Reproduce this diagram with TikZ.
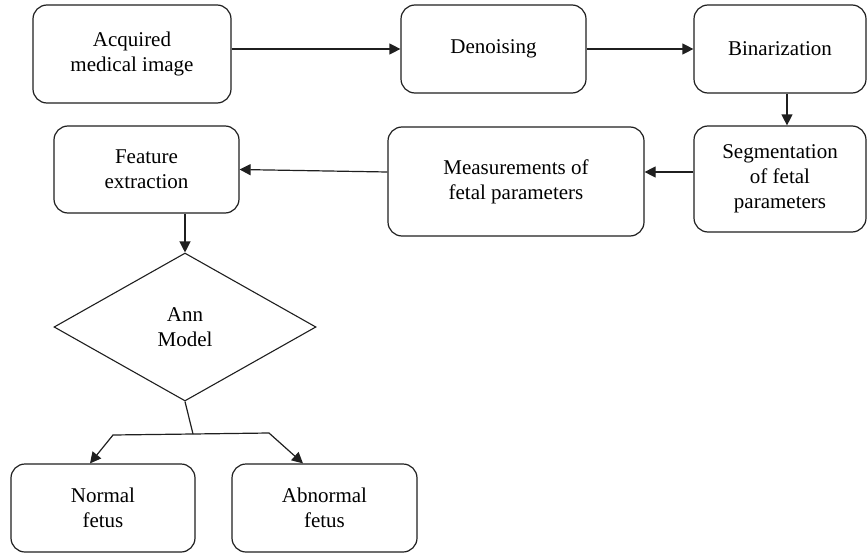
\documentclass[tikz,border=0pt]{standalone}
\usepackage{fontspec}
\setmainfont{Liberation Serif}
\usetikzlibrary{shapes.geometric,arrows.meta}

\tikzset{
  stage/.style={draw=black!88, line width=1.2pt, rounded corners=14pt,
    align=center, font=\fontsize{21}{25}\selectfont, inner sep=2pt},
  decide/.style={draw=black!88, line width=1.1pt, shape=diamond, inner sep=0pt,
    align=center, font=\fontsize{21}{25}\selectfont},
  arr/.style={draw=black!88, line width=1.2pt, -{Triangle[length=11pt,width=11pt]}},
  link/.style={draw=black!88, line width=1.2pt}
}

\begin{document}
\begin{tikzpicture}[x=1pt, y=-1pt]
  % page frame (pixel grid of the reference)
  \useasboundingbox (0,0) rectangle (868,554);
  % Top row of processing stages
  \node[stage, minimum width=198pt, minimum height=98pt] (acq) at (132,54) {Acquired\\medical image};
  \node[stage, minimum width=185pt, minimum height=88pt] (denoise) at (493.5,49) {Denoising};
  \node[stage, minimum width=172pt, minimum height=88pt] (binar) at (780,49) {Binarization};
  % Second row, running right to left
  \node[stage, minimum width=172pt, minimum height=106pt] (segm) at (780,179) {Segmentation\\of fetal\\parameters};
  \node[stage, minimum width=256pt, minimum height=109pt] (meas) at (516,181.5) {Measurements of\\fetal parameters};
  \node[stage, minimum width=185pt, minimum height=87pt] (feat) at (146.5,169.5) {Feature\\extraction};
  % Classifier
  \node[decide, minimum width=262pt, minimum height=148pt] (ann) at (185,327) {Ann\\Model};
  % Outcomes
  \node[stage, minimum width=184pt, minimum height=88pt] (normal) at (103,508) {Normal\\fetus};
  \node[stage, minimum width=185pt, minimum height=88pt] (abnormal) at (324.5,508) {Abnormal\\fetus};
  % Connectors along the pipeline
  \draw[arr] (acq.east |- denoise.west) -- (denoise.west);
  \draw[arr] (denoise.east) -- (binar.west);
  \draw[arr] ([xshift=7pt]binar.south) -- ([xshift=7pt]segm.north);
  \draw[arr] ([yshift=7pt]segm.west) -- ([yshift=9.5pt]meas.east);
  \draw[arr] ([yshift=9.5pt]meas.west) -- (feat.east);
  \draw[arr] (feat.south -| ann.north) -- (ann.north);
  % Split of the decision into two classes
  \coordinate (split) at (193,434);
  \coordinate (bleft) at (113,435);
  \coordinate (bright) at (269,433);
  \draw[link] (ann.south) -- (split);
  \draw[arr] (split) -- (bleft) -- ([xshift=-13pt]normal.north);
  \draw[arr] (split) -- (bright) -- ([xshift=-21.5pt]abnormal.north);
\end{tikzpicture}
\end{document}
